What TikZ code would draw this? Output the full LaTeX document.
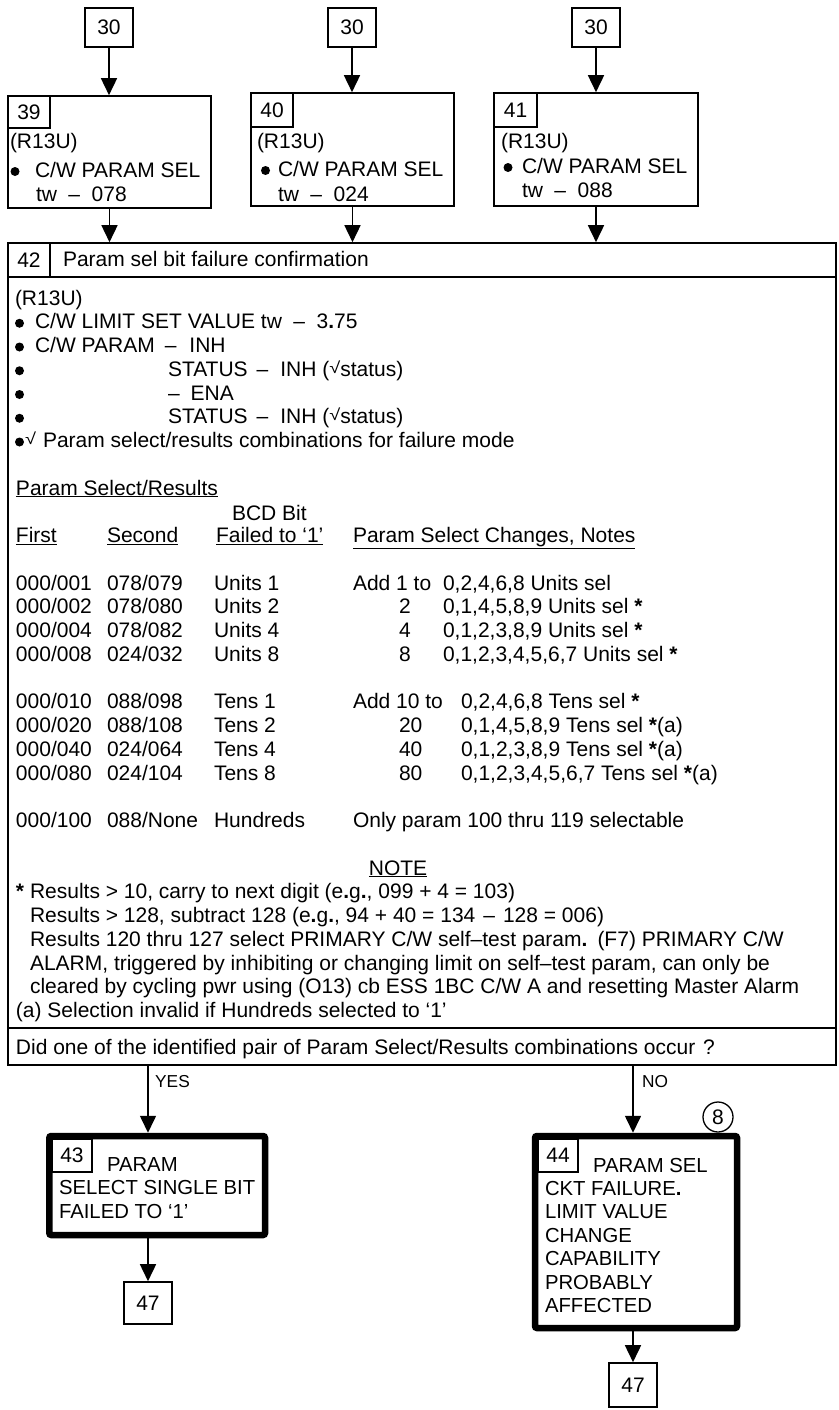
\documentclass[tikz,border=0pt]{standalone}
\usepackage{fontspec}
\setmainfont{Liberation Sans}
\usetikzlibrary{arrows.meta}
\newcommand{\mytxt}[4]{\node[txt] (#1) at (#2,#3) {#4};}
\newcommand{\mybul}[3]{\node[bulletdot] (#1) at (#2,#3) {};}
\newcommand{\chk}{\raisebox{3pt}[12pt][0pt]{\scalebox{1.25}[1]{\fontsize{16pt}{16pt}\selectfont √}}}
\newcommand{\bst}{\textbf{*}}
\newcommand{\trow}[9]{%
  \node[txt] (#1a) at (16,#2) {#3};
  \node[txt] (#1b) at (107,#2) {#4};
  \node[txt] (#1c) at (214,#2) {#5};
  \node[txt] (#1d) at (#6,#2) {#7};
  \node[txt] (#1e) at (#8,#2) {#9};}
\begin{document}
\begin{tikzpicture}[x=1pt,y=-1pt,
  every node/.style={font=\fontsize{21pt}{23.75pt}\selectfont},
  txt/.style={anchor=base west, inner sep=0pt, outer sep=0pt},
  bulletdot/.style={circle, fill=black, inner sep=0pt, minimum size=9pt},
  bx/.style={draw, line width=1.6pt, inner sep=0pt},
  thbox/.style={draw, line width=6.5pt, rounded corners=2pt, inner sep=0pt},
  arr/.style={line width=1.6pt, -{Triangle[length=17pt,width=16pt]}},
  smalltxt/.style={font=\fontsize{20.3pt}{23.5pt}\selectfont},
  lbl/.style={anchor=base west, inner sep=0pt, font=\fontsize{17.3pt}{20pt}\selectfont}]
\useasboundingbox (0,0) rectangle (838,1410);

% top connector boxes
\node[bx, minimum width=48pt, minimum height=39pt] (s1) at (109,27.5) {30};
\node[bx, minimum width=48pt, minimum height=39pt] (s2) at (352,27.5) {30};
\node[bx, minimum width=48pt, minimum height=39pt] (s3) at (596,27.5) {30};

% boxes 39, 40, 41
\node[bx, minimum width=203pt, minimum height=112pt] (b39) at (109.5,152) {};
\node[bx, minimum width=42pt, minimum height=32pt] (n39) at (29,112) {39};
\node[bx, minimum width=203pt, minimum height=113pt] (b40) at (352.5,149.5) {};
\node[bx, minimum width=42pt, minimum height=34pt] (n40) at (272,110) {40};
\node[bx, minimum width=204pt, minimum height=113pt] (b41) at (596,149.5) {};
\node[bx, minimum width=43pt, minimum height=34pt] (n41) at (515.5,110) {41};

\mytxt{t39a}{10}{149}{(R13U)}
\mybul{t39b}{15}{171.5}
\mytxt{t39c}{35}{177}{C/W PARAM SEL}
\mytxt{t39d}{36}{201}{tw\hspace{11.5pt}–\hspace{11.5pt}078}

\mytxt{t40a}{257}{148}{(R13U)}
\mybul{t40b}{265.5}{170.5}
\mytxt{t40c}{278}{176}{C/W PARAM SEL}
\mytxt{t40d}{278}{201}{tw\hspace{11.5pt}–\hspace{11.5pt}024}

\mytxt{t41a}{501}{148}{(R13U)}
\mybul{t41b}{508}{167.5}
\mytxt{t41c}{522}{173}{C/W PARAM SEL}
\mytxt{t41d}{522}{197}{tw\hspace{11.5pt}–\hspace{11.5pt}088}

% box 42
\node[bx, minimum width=828pt, minimum height=822pt] (b42) at (422,654) {};
\node[bx, minimum width=828pt, minimum height=34pt] (h42) at (422,260) {};
\node[bx, minimum width=42pt, minimum height=34pt] (n42) at (29,260) {42};
\mytxt{h42t}{63}{266}{Param sel bit failure confirmation}
\node[bx, minimum width=828pt, minimum height=37pt] (q42) at (422,1046.5) {};
\mytxt{q42t}{16}{1054}{Did one of the identified pair of Param Select/Results combinations occur\hspace{8pt}?}

\mytxt{k0}{15}{305}{(R13U)}
\mybul{k1a}{19.5}{323.25}
\mytxt{k1b}{35}{328.75}{C/W LIMIT SET VALUE tw\hspace{11.5pt}–\hspace{11.5pt}3\textbf{.}75}
\mybul{k2a}{19.5}{347}
\mytxt{k2b}{35}{352.5}{C/W PARAM\hspace{10pt}–\hspace{13pt}INH}
\mybul{k3a}{19.5}{370.75}
\mytxt{k3b}{168}{376.25}{STATUS\hspace{9pt}–\hspace{12pt}INH (\chk status)}
\mybul{k4a}{19.5}{394.5}
\mytxt{k4b}{168}{400}{–\hspace{11pt}ENA}
\mybul{k5a}{19.5}{418.25}
\mytxt{k5b}{168}{423.75}{STATUS\hspace{9pt}–\hspace{12pt}INH (\chk status)}
\mybul{k6a}{19.5}{442}
\mytxt{k6b}{25}{447.5}{\chk}
\mytxt{k6c}{43}{447.5}{Param select/results combinations for failure mode}
\mytxt{k8}{16}{495}{\underline{Param Select/Results}}
\mytxt{k9}{232}{520}{BCD Bit}
\mytxt{k10a}{16}{542.5}{\underline{First}}
\mytxt{k10b}{107}{542.5}{\underline{Second}}
\mytxt{k10c}{216}{542.5}{\underline{Failed to ‘1’}}
\mytxt{k10d}{353}{542.5}{\underline{Param Select Changes, Notes}}

\trow{r1}{590}{000/001}{078/079}{Units 1}{353}{Add 1 to}{443}{0,2,4,6,8 Units sel}
\trow{r2}{613.75}{000/002}{078/080}{Units 2}{399}{2}{443}{0,1,4,5,8,9 Units sel \bst}
\trow{r3}{637.5}{000/004}{078/082}{Units 4}{399}{4}{443}{0,1,2,3,8,9 Units sel \bst}
\trow{r4}{661.25}{000/008}{024/032}{Units 8}{399}{8}{443}{0,1,2,3,4,5,6,7 Units sel \bst}
\trow{r5}{708.75}{000/010}{088/098}{Tens 1}{353}{Add 10 to}{461}{0,2,4,6,8 Tens sel \bst}
\trow{r6}{732.5}{000/020}{088/108}{Tens 2}{399}{20}{461}{0,1,4,5,8,9 Tens sel \bst(a)}
\trow{r7}{756.25}{000/040}{024/064}{Tens 4}{399}{40}{461}{0,1,2,3,8,9 Tens sel \bst(a)}
\trow{r8}{780}{000/080}{024/104}{Tens 8}{399}{80}{461}{0,1,2,3,4,5,6,7 Tens sel \bst(a)}
\mytxt{r9a}{16}{827.5}{000/100}
\mytxt{r9b}{107}{827.5}{088/None}
\mytxt{r9c}{214}{827.5}{Hundreds}
\mytxt{r9d}{353}{827.5}{Only param 100 thru 119 selectable}

\node[anchor=base, inner sep=0pt] (note) at (398,875) {\underline{NOTE}};
\mytxt{n1}{16}{898.75}{\bst\ Results > 10, carry to next digit (e\textbf{.}g\textbf{.}, 099 + 4 = 103)}
\mytxt{n2}{30}{922.5}{Results > 128, subtract 128 (e\textbf{.}g\textbf{.}, 94 + 40 = 134\hspace{8pt}–\hspace{8pt}128 = 006)}
\mytxt{n3}{30}{946.25}{Results 120 thru 127 select PRIMARY C/W self–test param\textbf{.}\hspace{10pt}(F7) PRIMARY C/W}
\mytxt{n4}{30}{970}{ALARM, triggered by inhibiting or changing limit on self–test param, can only be}
\mytxt{n5}{30}{993.75}{cleared by cycling pwr using (O13) cb ESS 1BC C/W A and resetting Master Alarm}
\mytxt{n6}{16}{1017.5}{(a) Selection invalid if Hundreds selected to ‘1’}

% boxes 43, 44
\node[thbox, minimum width=215.7pt, minimum height=99pt] (b43) at (157.15,1185.5) {};
\node[bx, minimum width=40pt, minimum height=33pt] (n43) at (72,1155.5) {43};
\node[txt, smalltxt] (t43a) at (107,1171) {PARAM};
\node[txt, smalltxt] (t43b) at (59,1194) {SELECT SINGLE BIT};
\node[txt, smalltxt] (t43c) at (59,1218) {FAILED TO ‘1’};

\node[thbox, minimum width=202pt, minimum height=192pt] (b44) at (636,1232) {};
\node[bx, minimum width=40pt, minimum height=33pt] (n44) at (558,1155.5) {44};
\node[txt, smalltxt] (t44a) at (593,1172) {PARAM SEL};
\node[txt, smalltxt] (t44b) at (545,1195) {CKT FAILURE\textbf{.}};
\node[txt, smalltxt] (t44c) at (545,1218.5) {LIMIT VALUE};
\node[txt, smalltxt] (t44d) at (545,1242) {CHANGE};
\node[txt, smalltxt] (t44e) at (545,1265.5) {CAPABILITY};
\node[txt, smalltxt] (t44f) at (545,1289) {PROBABLY};
\node[txt, smalltxt] (t44g) at (545,1312.5) {AFFECTED};

\node[draw, circle, line width=1.3pt, minimum size=30pt, inner sep=0pt] (c8) at (718,1117) {8};

\node[bx, minimum width=48pt, minimum height=42pt] (e1) at (148,1303) {47};
\node[bx, minimum width=48pt, minimum height=44pt] (e2) at (633,1385) {47};

% connectors
\draw[arr] (s1.south) -- (s1.south |- b39.north);
\draw[arr] (s2.south) -- (s2.south |- b40.north);
\draw[arr] (s3.south) -- (s3.south |- b41.north);
\draw[arr] (b39.south) -- (b39.south |- b42.north);
\draw[arr] (b40.south) -- (b40.south |- b42.north);
\draw[arr] (b41.south) -- (b41.south |- b42.north);
\coordinate (yx) at (148,1100);
\coordinate (nx) at (633,1100);
\draw[arr] (b42.south -| yx) -- (b43.north -| yx);
\draw[arr] (b42.south -| nx) -- (b44.north -| nx);
\draw[arr] (b43.south -| e1) -- (e1.north);
\draw[arr] (b44.south -| e2) -- (e2.north);
\node[lbl] (yes) at (155,1087) {YES};
\node[lbl] (no) at (642,1087) {NO};
\end{tikzpicture}
\end{document}
